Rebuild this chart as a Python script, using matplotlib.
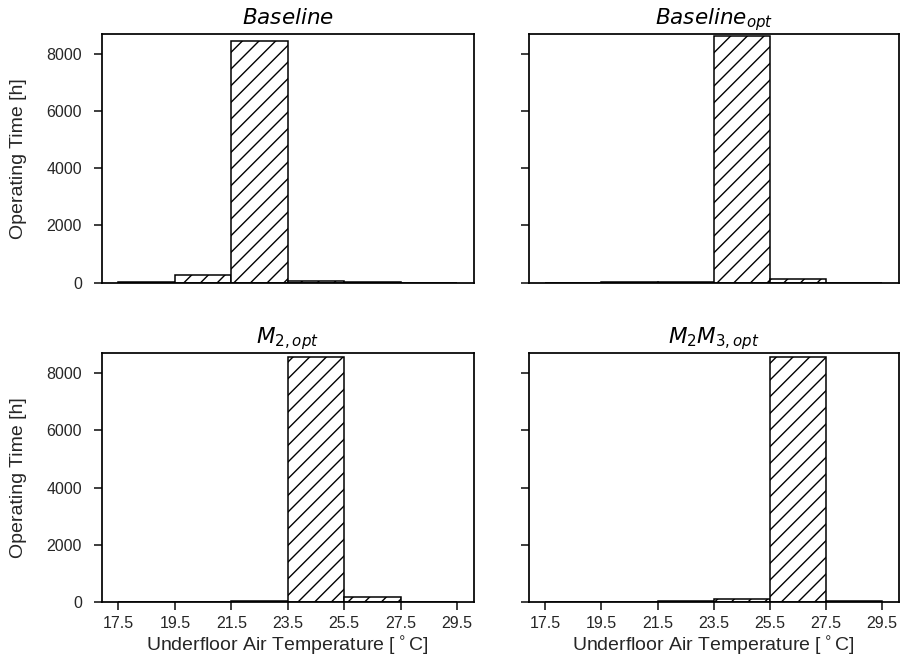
import numpy as np
import matplotlib
matplotlib.use("Agg")
import matplotlib.pyplot as plt

# Data
bin_edges = [17.5, 19.5, 21.5, 23.5, 25.5, 27.5, 29.5]
tick_labels = ["17.5", "19.5", "21.5", "23.5", "25.5", "27.5", "29.5"]
titles = [r"$Baseline$", r"$Baseline_{opt}$", r"$M_{2,opt}$", r"$M_2M_{3,opt}$"]
baseline = [4, 255, 8450, 60, 3, 0]
baseline_opt = [0, 2, 4, 8625, 130, 0]
m2_opt = [0, 6, 20, 8570, 165, 0]
m2m3_opt = [0, 6, 22, 95, 8585, 30]
series = [baseline, baseline_opt, m2_opt, m2m3_opt]

plt.rcParams['font.family'] = ['Liberation Sans', 'DejaVu Sans']
plt.rcParams['mathtext.fontset'] = 'dejavusans'
plt.rcParams['hatch.linewidth'] = 1.0
plt.rcParams['axes.linewidth'] = 1.25
plt.rcParams['text.color'] = '0.15'
plt.rcParams['axes.labelcolor'] = '0.15'
plt.rcParams['xtick.color'] = '0.15'
plt.rcParams['ytick.color'] = '0.15'

W, H = 902, 666
dpi = 100
fig = plt.figure(figsize=(W / dpi, H / dpi), dpi=dpi)

boxes = [
    (101.5, 34, 474, 282.5),
    (528.5, 34, 899, 282.5),
    (101.5, 353.3, 474, 602),
    (528.5, 353.3, 899, 602),
]
axes = []
for i, (x0, y0, x1, y1) in enumerate(boxes):
    rect = [x0 / W, 1 - y1 / H, (x1 - x0) / W, (y1 - y0) / H]
    if i == 0:
        ax = fig.add_axes(rect)
    else:
        ax = fig.add_axes(rect, sharex=axes[0], sharey=axes[0])
    axes.append(ax)

edges = np.array(bin_edges)
centers = (edges[:-1] + edges[1:]) / 2
widths = np.diff(edges)
for i, ax in enumerate(axes):
    ax.bar(centers, series[i], width=widths, facecolor='white', edgecolor='black',
           hatch='//', linewidth=1.1)
    ax.set_title(titles[i], fontsize=15.5, pad=7, color='black')
    ax.tick_params(axis='both', direction='out', length=6, width=1.25, labelsize=11.5)
    ax.tick_params(axis='x', pad=4)
    ax.tick_params(axis='y', pad=8)
    ax.set_xticks(edges)
    ax.set_xticklabels(tick_labels)
    ax.set_yticks([0, 2000, 4000, 6000, 8000])
    if i < 2:
        ax.tick_params(axis='x', bottom=False, labelbottom=False)
    else:
        ax.set_xlabel(r"Underfloor Air Temperature [$^\circ$C]", fontsize=14, labelpad=3)
    if i % 2 == 1:
        ax.tick_params(labelleft=False)
    else:
        ax.set_ylabel("Operating Time [h]", fontsize=14, labelpad=14)

axes[0].set_xlim(16.9, 30.1)
axes[0].set_ylim(0, 8700)

fig.savefig("out.png", dpi=dpi)
